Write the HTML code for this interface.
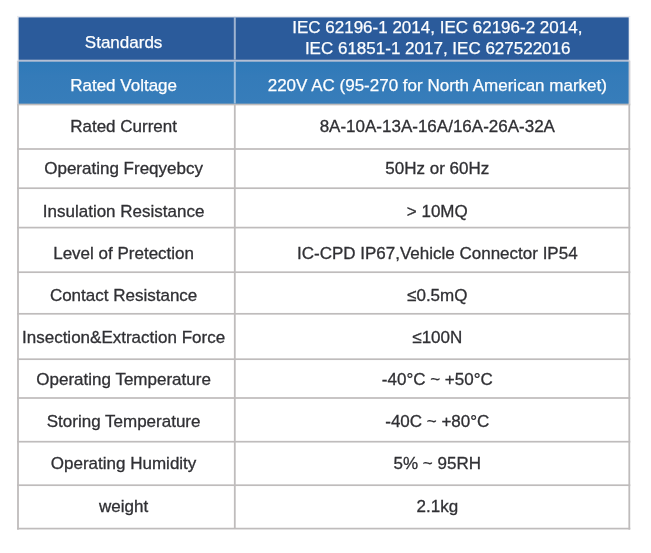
<!DOCTYPE html>
<html><head><meta charset="utf-8"><title>Specifications</title>
<style>
html,body{margin:0;padding:0;background:#fff;}
body{width:651px;height:553px;overflow:hidden;}
svg{display:block;font-family:"Liberation Sans",Arial,sans-serif;font-size:17px;}
text{text-anchor:middle;fill:#303034;stroke:#303034;stroke-width:0.3px;}
text.w{fill:#fdfeff;stroke:#fdfeff;stroke-width:0.25px;}
</style></head><body>
<svg width="651" height="553" viewBox="0 0 651 553">

<rect x="18.0" y="17.3" width="611.3" height="43.8" fill="#2b5b9b"/>
<defs><linearGradient id="g2" x1="0" y1="0" x2="0" y2="1"><stop offset="0" stop-color="#2e79b8"/><stop offset="0.35" stop-color="#347bb9"/><stop offset="1" stop-color="#377dba"/></linearGradient></defs>
<rect x="18.0" y="60.7" width="611.3" height="43.8" fill="url(#g2)"/>
<rect x="17.0" y="15.9" width="613.3" height="1.2" fill="#e6e9ee"/>
<rect x="18.0" y="59.7" width="611.3" height="2" fill="#b4bfd4"/>
<rect x="17.0" y="103.65" width="613.3" height="1.7" fill="#bfbcbc"/>
<rect x="17.0" y="148.15" width="613.3" height="1.7" fill="#bfbcbc"/>
<rect x="17.0" y="187.35" width="613.3" height="1.7" fill="#bfbcbc"/>
<rect x="17.0" y="226.75" width="613.3" height="1.7" fill="#bfbcbc"/>
<rect x="17.0" y="271.35" width="613.3" height="1.7" fill="#bfbcbc"/>
<rect x="17.0" y="312.95" width="613.3" height="1.7" fill="#bfbcbc"/>
<rect x="17.0" y="358.35" width="613.3" height="1.7" fill="#bfbcbc"/>
<rect x="17.0" y="397.15" width="613.3" height="1.7" fill="#bfbcbc"/>
<rect x="17.0" y="440.85" width="613.3" height="1.7" fill="#bfbcbc"/>
<rect x="17.0" y="484.35" width="613.3" height="1.7" fill="#bfbcbc"/>
<rect x="17.0" y="527.75" width="613.3" height="1.7" fill="#bfbcbc"/>
<rect x="17.0" y="16.9" width="1.6" height="43.8" fill="#eef0f4"/>
<rect x="16.9" y="60.7" width="1.8" height="43.8" fill="#cfcfd4"/>
<rect x="17.1" y="104.5" width="1.8" height="425.1" fill="#bfbcbc"/>
<rect x="233.8" y="16.9" width="2" height="42.8" fill="#9fb3d0"/>
<rect x="233.8" y="61.7" width="2" height="41.8" fill="#9dbddc"/>
<rect x="233.9" y="104.5" width="1.8" height="424.1" fill="#bfbcbc"/>
<rect x="628.7" y="16.9" width="1.6" height="43.8" fill="#eef0f4"/>
<rect x="628.6" y="60.7" width="1.8" height="43.8" fill="#cfcfd4"/>
<rect x="628.4" y="104.5" width="1.8" height="425.1" fill="#bfbcbc"/>
<text x="123.6" y="48.0" class="w">Standards</text>
<text x="437.3" y="33.0" class="w">IEC 62196-1 2014, IEC 62196-2 2014,</text>
<text x="437.7" y="54.0" class="w">IEC 61851-1 2017, IEC 627522016</text>
<text x="123.6" y="91.0" class="w">Rated Voltage</text>
<text x="437.3" y="91.0" class="w">220V AC (95-270 for North American market)</text>
<text x="123.6" y="132">Rated Current</text>
<text x="437.3" y="132">8A-10A-13A-16A/16A-26A-32A</text>
<text x="123.6" y="174">Operating Freqyebcy</text>
<text x="437.3" y="174">50Hz or 60Hz</text>
<text x="123.6" y="217">Insulation Resistance</text>
<text x="437.3" y="217">&gt; 10MQ</text>
<text x="123.6" y="259">Level of Pretection</text>
<text x="437.3" y="259">IC-CPD IP67,Vehicle Connector IP54</text>
<text x="123.6" y="301">Contact Resistance</text>
<text x="437.3" y="301">≤0.5mQ</text>
<text x="123.6" y="343">Insection&amp;Extraction Force</text>
<text x="437.3" y="343">≤100N</text>
<text x="123.6" y="385">Operating Temperature</text>
<text x="437.3" y="385">-40°C ~ +50°C</text>
<text x="123.6" y="427">Storing Temperature</text>
<text x="437.3" y="427">-40C ~ +80°C</text>
<text x="123.6" y="469">Operating Humidity</text>
<text x="437.3" y="469">5% ~ 95RH</text>
<text x="123.6" y="512">weight</text>
<text x="437.3" y="512">2.1kg</text>
</svg>
</body></html>
